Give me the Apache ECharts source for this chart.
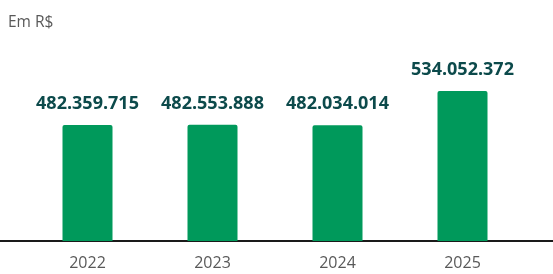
<!DOCTYPE html>
<html>
<head>
<meta charset="utf-8">
<script src="https://cdn.jsdelivr.net/npm/echarts@6/dist/echarts.min.js"></script>
<style>html,body{margin:0;padding:0;background:#fff}#c{width:553px;height:274px}</style>
</head>
<body>
<div id="c"></div>
<script>
const categories = ['2022', '2023', '2024', '2025'];
const values = [482359715, 482553888, 482034014, 534052372];
const unitLabel = 'Em R$';

function fmt(v) {
  return String(v).replace(/\B(?=(\d{3})+(?!\d))/g, '.');
}

const chart = echarts.init(document.getElementById('c'), null, { renderer: 'canvas' });
chart.setOption({
  animation: false,
  title: {
    text: unitLabel, left: 3, top: 10,
    textStyle: { fontFamily: 'Open Sans', fontSize: 15.5, fontWeight: 'normal', color: '#595959' }
  },
  grid: [
    { left: 25, right: 28, top: 20, bottom: 33, containLabel: false },
    { left: 0, right: 0, top: 20, bottom: 33, containLabel: false }
  ],
  xAxis: [
    {
      type: 'category', data: categories, gridIndex: 0,
      axisLine: { show: false }, axisTick: { show: false },
      axisLabel: { fontFamily: 'Open Sans', fontSize: 16, color: '#595959', margin: 14 }
    },
    {
      type: 'category', data: [''], gridIndex: 1,
      axisLine: { show: true, lineStyle: { color: '#1a1a1a', width: 2 } },
      axisTick: { show: false }, axisLabel: { show: false }
    }
  ],
  yAxis: [
    { type: 'value', min: 306000000, max: 642000000, gridIndex: 0, show: false },
    { type: 'value', gridIndex: 1, show: false }
  ],
  series: [{
    type: 'bar', data: values, barWidth: 50, xAxisIndex: 0, yAxisIndex: 0,
    itemStyle: { color: '#00995b', borderRadius: [2, 2, 0, 0] },
    label: {
      show: true, position: 'top', distance: 12,
      formatter: p => fmt(p.value),
      fontFamily: 'Open Sans', fontSize: 18, fontWeight: 'bold', color: '#0c4a4b'
    }
  }]
});
</script>
</body>
</html>
